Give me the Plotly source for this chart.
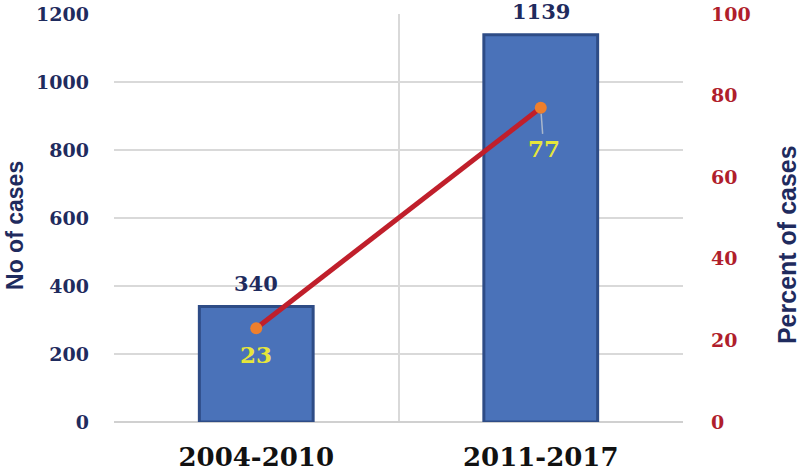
import plotly.graph_objects as go

categories = ["2004-2010", "2011-2017"]
case_counts = [340, 1139]
case_percent = [23, 77]
left_ticks = [0, 200, 400, 600, 800, 1000, 1200]
right_ticks = [0, 20, 40, 60, 80, 100]

NAVY = "#1f2b5e"
RED = "#b01e2c"
SERIF = "DejaVu Serif"

fig = go.Figure()
fig.add_trace(go.Bar(
    x=categories, y=case_counts, width=0.4,
    marker=dict(color="#4a72b9", line=dict(color="#2e4c86", width=3)),
    showlegend=False, hoverinfo="skip",
))
fig.add_trace(go.Scatter(
    x=categories, y=case_percent, yaxis="y2", mode="lines+markers",
    line=dict(color="#c01f2b", width=5),
    marker=dict(color="#ee7f2d", size=12),
    showlegend=False, hoverinfo="skip",
))

annotations = []
for c, v in zip(categories, case_counts):
    annotations.append(dict(x=c, y=v, xref="x", yref="y", text=str(v), showarrow=False,
                            yanchor="middle", yshift=23,
                            font=dict(family=SERIF, size=21, color=NAVY, weight="bold")))
annotations.append(dict(x=categories[0], y=case_percent[0], xref="x", yref="y2",
                        text=str(case_percent[0]), showarrow=False, yanchor="middle", yshift=-26,
                        font=dict(family=SERIF, size=23, color="#e6e63a", weight="bold")))
annotations.append(dict(x=categories[1], y=case_percent[1], xref="x", yref="y2",
                        text=str(case_percent[1]), showarrow=True, arrowhead=0, ax=3, ay=41,
                        arrowcolor="#a9b7cc", arrowwidth=1.5, standoff=6,
                        font=dict(family=SERIF, size=23, color="#e6e63a", weight="bold")))
annotations.append(dict(x=-0.174, y=0.483, xref="paper", yref="paper", text="<b>No of cases</b>",
                        textangle=-90, showarrow=False, xanchor="center", yanchor="middle",
                        font=dict(family="Liberation Sans", size=23, color=NAVY)))
annotations.append(dict(x=1.183, y=0.434, xref="paper", yref="paper", text="<b>Percent of cases</b>",
                        textangle=-90, showarrow=False, xanchor="center", yanchor="middle",
                        font=dict(family="Liberation Sans", size=25, color=NAVY)))

fig.update_layout(
    width=800, height=473,
    margin=dict(l=114, r=117, t=14, b=51, autoexpand=False),
    paper_bgcolor="white", plot_bgcolor="white",
    xaxis=dict(type="category", tickson="boundaries", showgrid=True, gridcolor="#d9d9d9",
               gridwidth=1.5, ticks="", showline=False, zeroline=False, automargin=False,
               tickfont=dict(family=SERIF, size=26, color="#111111", weight="bold"),
               ticklabelstandoff=17),
    yaxis=dict(range=[0, 1200], tickvals=left_ticks, showgrid=True, gridcolor="#d9d9d9",
               gridwidth=1.5, zeroline=True, zerolinecolor="#d0d0d0", zerolinewidth=1.5,
               showline=False, ticks="", ticklabelstandoff=24, automargin=False,
               tickfont=dict(family=SERIF, size=19, color=NAVY, weight="bold")),
    yaxis2=dict(range=[0, 100], tickvals=right_ticks, overlaying="y", side="right",
                showgrid=False, zeroline=False, showline=False, ticks="", ticklabelstandoff=27,
                automargin=False,
                tickfont=dict(family=SERIF, size=19, color=RED, weight="bold")),
    annotations=annotations,
)

fig.write_html("out.html", config={"displayModeBar": False},
               post_script="document.body.style.margin='0';document.body.style.overflow='hidden';")
